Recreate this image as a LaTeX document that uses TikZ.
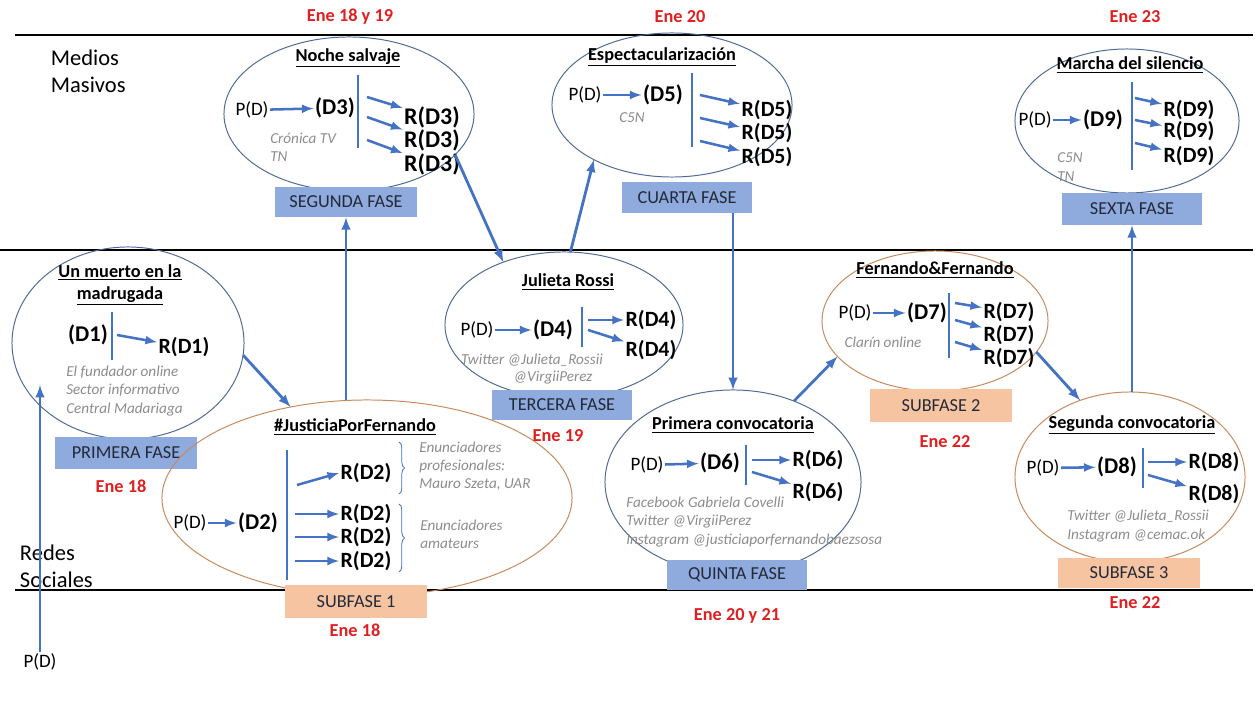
\documentclass[tikz,border=0pt]{standalone}
\usepackage{fontspec}
\setmainfont{Carlito}
\usetikzlibrary{shapes.geometric,decorations.pathreplacing}
\definecolor{arrblue}{HTML}{4472C4}
\definecolor{rimblue}{HTML}{4F6A96}
\definecolor{rimorange}{HTML}{C8895C}
\definecolor{fasblue}{HTML}{8FAADC}
\definecolor{faspeach}{HTML}{F7C4A2}
\definecolor{fastext}{HTML}{222A3A}
\definecolor{dated}{HTML}{E02020}
\definecolor{srcgray}{HTML}{8C8C8C}

\begin{document}
\begin{tikzpicture}[x=0.025cm,y=-0.025cm,
	med/.style={ellipse,draw=rimblue,line width=0.7pt,inner sep=0,outer sep=0},
	soc/.style={ellipse,draw=rimorange,line width=0.7pt,inner sep=0,outer sep=0},
	fase/.style={fill=fasblue,inner sep=0,text=fastext,font=\fontsize{13}{15}\selectfont},
	sub/.style={fill=faspeach,inner sep=0,text=fastext,font=\fontsize{13}{15}\selectfont},
	title/.style={align=center,font=\fontsize{13}{15.5}\selectfont\bfseries},
	pd/.style={inner sep=1,font=\fontsize{13.5}{16}\selectfont},
	dn/.style={inner sep=1,font=\fontsize{16}{18}\selectfont\bfseries},
	rd/.style={inner sep=1,font=\fontsize{15.5}{17}\selectfont\bfseries},
	src/.style={inner sep=0,align=left,text=srcgray,font=\fontsize{10.8}{13}\selectfont\itshape},
	date/.style={text=dated,font=\fontsize{13}{15}\selectfont\bfseries},
	band/.style={align=left,font=\fontsize{16}{19}\selectfont},
	arr/.style={-latex,draw=arrblue,line width=1.8pt},
	link/.style={-latex,draw=arrblue,line width=2pt},
	bar/.style={draw=arrblue,line width=2pt},
	rule/.style={line width=1.2pt},
	brc/.style={decorate,decoration={brace,amplitude=4pt},draw=arrblue,line width=0.6pt}
]
	\useasboundingbox (0,0) rectangle (1259,701);
	\draw[rule] (15,35) -- (1253,35);
	\draw[rule] (0,250) -- (1253,250);
	\draw[rule] (15,590) -- (1253,590);
	\node[band,anchor=west] (mm) at (46,71) {Medios\\Masivos};
	\node[band,anchor=west] (rs) at (15,566) {Redes\\Sociales};
	\node[pd] (p0) at (40,662) {P(D)};
	\coordinate (a0) at (40,385);
	\draw[link] (p0) -- (a0);

	\node[med,minimum width=5.8cm,minimum height=4.8cm] (e1) at (128,343) {};
	\node[title] (t1) at (120,285) {\underline{Un muerto en la}\\\underline{madrugada}};
	\node[dn] (d1) at (88,335) {(D1)};
	\draw[bar] (112,312) -- (112,360);
	\coordinate (s11) at (117,335);
	\node[rd] (r11) at (184,347) {R(D1)};
	\draw[arr] (s11) -- (r11);
	\node[src,anchor=west] (g1) at (66,391) {El fundador online\\Sector informativo\\Central Madariaga};
	\node[fase,minimum width=3.55cm,minimum height=0.8cm] (f1) at (126,453) {PRIMERA FASE};
	\node[date] (n1) at (121,486) {Ene 18};

	\node[soc,minimum width=10.25cm,minimum height=4.9cm] (e2) at (367,498) {};
	\node[title] (t2) at (355,427) {\underline{\#JusticiaPorFernando}};
	\node[pd] (p2) at (190,523) {P(D)};
	\node[dn] (d2) at (258,523) {(D2)};
	\draw[arr] (p2) -- (d2);
	\draw[bar] (287,450) -- (287,580);
	\coordinate (s21) at (297,485);
	\coordinate (s22) at (295,514);
	\coordinate (s23) at (295,537);
	\coordinate (s24) at (295,561);
	\node[rd] (r21) at (366,473) {R(D2)};
	\node[rd] (r22) at (366,514) {R(D2)};
	\node[rd] (r23) at (366,537) {R(D2)};
	\node[rd] (r24) at (366,561) {R(D2)};
	\draw[arr] (s21) -- (r21.west);
	\draw[arr] (s22) -- (r22.west);
	\draw[arr] (s23) -- (r23.west);
	\draw[arr] (s24) -- (r24.west);
	\draw[brc] (399,442) -- (399,494);
	\draw[brc] (399,504) -- (399,572);
	\node[src,anchor=west] (g21) at (419,466) {Enunciadores\\profesionales:\\Mauro Szeta, UAR};
	\node[src,anchor=west] (g22) at (420,534) {Enunciadores\\amateurs};
	\node[sub,minimum width=3.55cm,minimum height=0.825cm] (f2) at (356,601.5) {SUBFASE 1};
	\node[date] (n2) at (355,630) {Ene 18};

	\node[med,minimum width=6.25cm,minimum height=3.85cm] (e3) at (349,114) {};
	\node[title] (t3) at (348,58) {\underline{Noche salvaje}};
	\node[pd] (p3) at (252,110) {P(D)};
	\node[dn] (d3) at (335,108) {(D3)};
	\draw[arr] (p3) -- (d3);
	\draw[bar] (358,75) -- (358,148);
	\coordinate (s31) at (367,97);
	\coordinate (s32) at (367,117);
	\coordinate (s33) at (367,140);
	\node[rd,font=\fontsize{17}{18}\selectfont\bfseries] (r31) at (432,117) {R(D3)};
	\node[rd,font=\fontsize{17}{18}\selectfont\bfseries] (r32) at (432,140) {R(D3)};
	\node[rd,font=\fontsize{17}{18}\selectfont\bfseries] (r33) at (432,164) {R(D3)};
	\draw[arr] (s31) -- (r31);
	\draw[arr] (s32) -- (r32);
	\draw[arr] (s33) -- (r33);
	\node[src,anchor=west] (g3) at (270,147) {Crónica TV\\TN};
	\node[fase,minimum width=3.55cm,minimum height=0.75cm] (f3) at (346,202) {SEGUNDA FASE};
	\node[date] (n3) at (350,17) {Ene 18 y 19};

	\node[med,minimum width=5.95cm,minimum height=3.65cm] (e4) at (564,325) {};
	\node[title] (t4) at (568,282) {\underline{Julieta Rossi}};
	\node[pd] (p4) at (477,330) {P(D)};
	\node[dn] (d4) at (553,330) {(D4)};
	\draw[arr] (p4) -- (d4);
	\draw[bar] (582,307) -- (582,347);
	\coordinate (s41) at (588,320);
	\coordinate (s42) at (588,330);
	\node[rd] (r41) at (651,320) {R(D4)};
	\node[rd] (r42) at (651,350) {R(D4)};
	\draw[arr] (s41) -- (r41.west);
	\draw[arr] (s42) -- (r42);
	\node[src] (g41) at (532,360) {Twitter @Julieta\_Rossii};
	\node[src] (g42) at (553,378) {@VirgiiPerez};
	\node[fase,minimum width=3.5cm,minimum height=0.75cm] (f4) at (562,405) {TERCERA FASE};
	\node[date] (n4) at (558,436) {Ene 19};

	\node[med,minimum width=6cm,minimum height=3.6cm] (e5) at (672,105) {};
	\node[title] (t5) at (662,57) {\underline{Espectacularización}};
	\node[pd] (p5) at (585,95) {P(D)};
	\node[dn] (d5) at (663,95) {(D5)};
	\draw[arr] (p5) -- (d5);
	\draw[bar] (692,73) -- (692,147);
	\coordinate (s51) at (700,95);
	\coordinate (s52) at (700,118);
	\coordinate (s53) at (700,141);
	\node[rd] (r51) at (767,110) {R(D5)};
	\node[rd] (r52) at (767,133) {R(D5)};
	\node[rd] (r53) at (767,157) {R(D5)};
	\draw[arr] (s51) -- (r51);
	\draw[arr] (s52) -- (r52);
	\draw[arr] (s53) -- (r53);
	\node[src] (g5) at (632,118) {C5N};
	\node[fase,minimum width=3.25cm,minimum height=0.775cm] (f5) at (687,197.5) {CUARTA FASE};
	\node[date] (n5) at (680,17) {Ene 20};

	\node[med,minimum width=6.4cm,minimum height=4.6cm] (e6) at (733,482) {};
	\node[title] (t6) at (733,425) {\underline{Primera convocatoria}};
	\node[pd] (p6) at (647,465) {P(D)};
	\node[dn] (d6) at (720,463) {(D6)};
	\draw[arr] (p6) -- (d6);
	\draw[bar] (746,445) -- (746,485);
	\coordinate (s61) at (752,460);
	\coordinate (s62) at (752,472);
	\node[rd] (r61) at (818,460) {R(D6)};
	\node[rd] (r62) at (818,492) {R(D6)};
	\draw[arr] (s61) -- (r61.west);
	\draw[arr] (s62) -- (r62);
	\node[src,anchor=west] (g6) at (626,522) {Facebook Gabriela Covelli\\Twitter @VirgiiPerez\\Instagram @justiciaporfernandobaezsosa};
	\node[fase,minimum width=3.5cm,minimum height=0.75cm] (f6) at (737,575) {QUINTA FASE};
	\node[date] (n6) at (737,616) {Ene 20 y 21};

	\node[soc,minimum width=5.65cm,minimum height=3.5cm] (e7) at (935,321) {};
	\node[title] (t7) at (935,270) {\underline{Fernando\&Fernando}};
	\node[pd] (p7) at (855,313) {P(D)};
	\node[dn] (d7) at (927,313) {(D7)};
	\draw[arr] (p7) -- (d7);
	\draw[bar] (949,293) -- (949,358);
	\coordinate (s71) at (955,303);
	\coordinate (s72) at (955,320);
	\coordinate (s73) at (955,342);
	\node[rd] (r71) at (1009,312) {R(D7)};
	\node[rd] (r72) at (1009,335) {R(D7)};
	\node[rd] (r73) at (1009,358) {R(D7)};
	\draw[arr] (s71) -- (r71);
	\draw[arr] (s72) -- (r72);
	\draw[arr] (s73) -- (r73);
	\node[src] (g7) at (883,342) {Clarín online};
	\node[sub,minimum width=3.55cm,minimum height=0.825cm] (f7) at (941,405.5) {SUBFASE 2};
	\node[date] (n7) at (945,442) {Ene 22};

	\node[soc,minimum width=5.75cm,minimum height=4.25cm] (e8) at (1130,477) {};
	\node[title] (t8) at (1132,425) {\underline{Segunda convocatoria}};
	\node[pd] (p8) at (1043,468) {P(D)};
	\node[dn] (d8) at (1117,467) {(D8)};
	\draw[arr] (p8) -- (d8);
	\draw[bar] (1143,448) -- (1143,488);
	\coordinate (s81) at (1148,462);
	\coordinate (s82) at (1148,475);
	\node[rd] (r81) at (1214,462) {R(D8)};
	\node[rd] (r82) at (1214,494) {R(D8)};
	\draw[arr] (s81) -- (r81.west);
	\draw[arr] (s82) -- (r82);
	\node[src,anchor=west] (g8) at (1067,526) {Twitter @Julieta\_Rossii\\Instagram @cemac.ok};
	\node[sub,minimum width=3.55cm,minimum height=0.75cm] (f8) at (1129,573) {SUBFASE 3};
	\node[date] (n8) at (1135,603) {Ene 22};

	\node[med,minimum width=5.6cm,minimum height=3.6cm] (e9) at (1127,121) {};
	\node[title] (t9) at (1130,65) {\underline{Marcha del silencio}};
	\node[pd] (p9) at (1035,120) {P(D)};
	\node[dn] (d9) at (1103,120) {(D9)};
	\draw[arr] (p9) -- (d9);
	\draw[bar] (1132,82) -- (1132,170);
	\coordinate (s91) at (1135,98);
	\coordinate (s92) at (1135,120);
	\coordinate (s93) at (1135,143);
	\node[rd] (r91) at (1189,110) {R(D9)};
	\node[rd] (r92) at (1189,131) {R(D9)};
	\node[rd] (r93) at (1189,156) {R(D9)};
	\draw[arr] (s91) -- (r91);
	\draw[arr] (s92) -- (r92);
	\draw[arr] (s93) -- (r93);
	\node[src,anchor=west] (g9) at (1057,167) {C5N\\TN};
	\node[fase,minimum width=3.5cm,minimum height=0.8cm] (f9) at (1132,209) {SEXTA FASE};
	\node[date] (n9) at (1135,17) {Ene 23};

	\draw[link] (e1.-6) -- (e2.130);
	\draw[link] (f3.south |- e2.north) -- (f3.south);
	\draw[link] (e3.-21) -- (e4.134);
	\draw[link] (e4.85) -- (e5.215);
	\draw[link] (f5.south -| e6.north) -- (e6.north);
	\draw[link] (e6.53) -- (e7.200);
	\draw[link] (e7.-17) -- (e8.123);
	\draw[link] (f9.south |- e8.north) -- (f9.south);
\end{tikzpicture}
\end{document}
